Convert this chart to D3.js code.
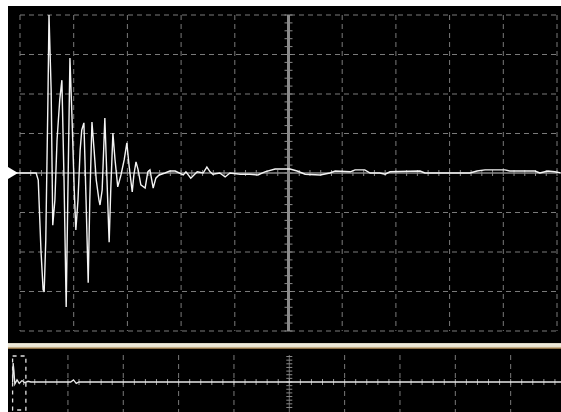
<!DOCTYPE html>
<html><head><meta charset="utf-8">
<script src="https://cdn.jsdelivr.net/npm/d3@7"></script>
<style>html,body{margin:0;padding:0;background:#fff;}svg{display:block;}</style>
</head><body>
<svg id="c" width="561" height="412"></svg>
<script>
// ---- Main trace (time in divisions, amplitude in divisions) ----
const mainTime = [-0.22,0.30,0.34,0.39,0.43,0.45,0.48,0.52,0.54,0.58,0.61,0.65,0.69,0.74,0.78,0.82,0.86,0.89,0.93,0.97,1.01,1.04,1.08,1.12,1.15,1.19,1.23,1.27,1.30,1.34,1.38,1.42,1.47,1.49,1.53,1.58,1.62,1.66,1.69,1.73,1.77,1.82,1.88,1.94,1.99,2.03,2.09,2.12,2.16,2.20,2.25,2.33,2.38,2.42,2.48,2.53,2.59,2.70,2.79,
  2.89,3.04,3.09,3.18,3.30,3.41,3.48,3.54,3.59,3.72,3.82,3.91,4.10,4.28,4.43,4.56,4.75,5.03,5.16,5.31,5.59,5.77,5.87,6.15,6.24,6.42,6.52,6.70,6.80,6.89,7.45,7.54,8.38,8.51,8.66,9.03,9.12,9.59,9.68,9.83,9.96,10.07];
const mainVolt = [0,0,-0.18,-1.95,-2.95,-3.01,-1.70,1.85,4.00,2.10,-1.32,-0.68,0.84,1.85,2.35,-0.18,-3.39,-0.68,2.91,1.34,-0.43,-1.44,-0.68,0.58,1.09,1.27,-0.68,-2.78,-0.68,1.29,0.58,-0.18,-0.68,-0.81,-0.43,1.39,-0.18,-1.75,-0.43,1.01,0.33,-0.35,-0.05,0.33,0.76,0.20,-0.48,-0.05,0.28,0.08,-0.30,-0.38,0.03,0.08,-0.38,-0.13,-0.05,0,0.05,
  0.05,-0.05,0.03,-0.13,0.03,0,0.15,0.03,-0.03,0,-0.10,0,-0.03,-0.03,-0.05,0.03,0.10,0.10,0.05,-0.03,-0.05,0,0.05,0.03,0.08,0.08,0,0,-0.03,0.03,0.05,0,0,0.05,0.08,0.08,0.05,0.05,0,0.05,0.03,0];

// ---- Overview (record) trace ----
const overTime = [0,0.01,0.025,0.04,0.08,0.12,0.17,0.22,0.28,0.33,1.05,1.1,1.15,1.2,10];
const overVolt = [0,2.7,1.5,-0.3,0.3,-0.2,0.2,-0.1,0.1,0,0,0.3,-0.2,0,0];
const windowSpan = [0,0.24];

const hDivs = d3.range(0,11);
const vDivs = d3.range(-4,5);

const svg = d3.select("#c");
// layout
const x = d3.scaleLinear().domain([0,10]).range([20,557]);
const y = d3.scaleLinear().domain([-4,4]).range([331,15]);
const ox = d3.scaleLinear().domain([0,10]).range([12.6,566]);
const oy = d3.scaleLinear().domain([-4,4]).range([410,354]);

// backgrounds
svg.append("rect").attr("x",8).attr("y",6).attr("width",553).attr("height",337).attr("fill","#000");
const defs = svg.append("defs");
const g = defs.append("linearGradient").attr("id","bar").attr("x1",0).attr("x2",0).attr("y1",0).attr("y2",1);
[[0,"#cfcbb8"],[0.25,"#eeeadb"],[0.65,"#e6e1cd"],[0.8,"#b4986a"],[1,"#6e5028"]].forEach(s=>g.append("stop").attr("offset",s[0]).attr("stop-color",s[1]));
svg.append("rect").attr("x",8).attr("y",343).attr("width",553).attr("height",6).attr("fill","url(#bar)");
svg.append("rect").attr("x",8).attr("y",349).attr("width",553).attr("height",63).attr("fill","#000");

const gridCol = "#7a7a7a";
// main grid
svg.append("g").selectAll("line").data(hDivs).join("line")
  .attr("x1",d=>x(d)).attr("x2",d=>x(d)).attr("y1",y(4)).attr("y2",y(-4))
  .attr("stroke",gridCol).attr("stroke-width",1).attr("stroke-dasharray","5,4")
  .attr("display",d=>d===5?"none":null);
svg.append("g").selectAll("line").data(vDivs).join("line")
  .attr("x1",x(0)).attr("x2",x(10)).attr("y1",d=>y(d)).attr("y2",d=>y(d))
  .attr("stroke",gridCol).attr("stroke-width",1).attr("stroke-dasharray","5,4")
  .attr("display",d=>d===0?"none":null);

// center axes
svg.append("line").attr("x1",x(0)).attr("x2",x(10)).attr("y1",y(0)).attr("y2",y(0)).attr("stroke","#8a8a8a").attr("stroke-width",1.5);
svg.append("g").selectAll("line").data(d3.range(0,50.1,1).map(i=>i/5)).join("line")
  .attr("x1",d=>x(d)).attr("x2",d=>x(d)).attr("y1",y(0)-3).attr("y2",y(0)+3).attr("stroke","#8a8a8a").attr("stroke-width",1);
svg.append("line").attr("x1",x(5)).attr("x2",x(5)).attr("y1",y(4)).attr("y2",y(-4)).attr("stroke","#8a8a8a").attr("stroke-width",3);
svg.append("g").selectAll("line").data(d3.range(-20,20.1,1).map(i=>i/5)).join("line")
  .attr("x1",x(5)-4).attr("x2",x(5)+4).attr("y1",d=>y(d)).attr("y2",d=>y(d)).attr("stroke","#8a8a8a").attr("stroke-width",1);

// trace
const mainData = mainTime.map((t,i)=>[t,mainVolt[i]]);
const line = d3.line().x(d=>x(d[0])).y(d=>y(d[1]));
svg.append("path").datum(mainData).attr("d",line).attr("fill","none").attr("stroke","#f4f4f4").attr("stroke-width",1.4).attr("stroke-linejoin","miter");

// ground marker
svg.append("path").attr("d",`M8,${y(0)-6}L18,${y(0)}L8,${y(0)+6}Z`).attr("fill","#fff");

// ---- overview panel ----
svg.append("g").selectAll("line").data(d3.range(1,10)).join("line")
  .attr("x1",d=>ox(d)).attr("x2",d=>ox(d)).attr("y1",355).attr("y2",412)
  .attr("stroke",gridCol).attr("stroke-width",1).attr("stroke-dasharray",d=>d===5?"2,6":"5,4")
  .attr("display",d=>d===5?"none":null);
// center ticks column
svg.append("line").attr("x1",ox(5)).attr("x2",ox(5)).attr("y1",355).attr("y2",412).attr("stroke","#6a6a6a").attr("stroke-width",1);
svg.append("g").selectAll("line").data(d3.range(-7,8).map(i=>i*0.52)).join("line")
  .attr("x1",ox(5)-3).attr("x2",ox(5)+3).attr("y1",d=>oy(d)).attr("y2",d=>oy(d)).attr("stroke","#8a8a8a").attr("stroke-width",1);
// baseline ticks
svg.append("g").selectAll("line").data(d3.range(0,51).map(i=>i/5)).join("line")
  .attr("x1",d=>ox(d)).attr("x2",d=>ox(d)).attr("y1",oy(0)-3).attr("y2",oy(0)+3).attr("stroke","#9a9a9a").attr("stroke-width",1);
const overData = overTime.map((t,i)=>[t,overVolt[i]]);
svg.append("path").datum(overData).attr("d",d3.line().x(d=>ox(d[0])).y(d=>oy(d[1])))
  .attr("fill","none").attr("stroke","#e8e8e8").attr("stroke-width",1.3);
// window rectangle
svg.append("rect").attr("x",ox(windowSpan[0])).attr("y",356).attr("width",ox(windowSpan[1])-ox(windowSpan[0])).attr("height",54)
  .attr("fill","none").attr("stroke","#e0e0e0").attr("stroke-width",1.3).attr("stroke-dasharray","4,4");
</script>
</body></html>
